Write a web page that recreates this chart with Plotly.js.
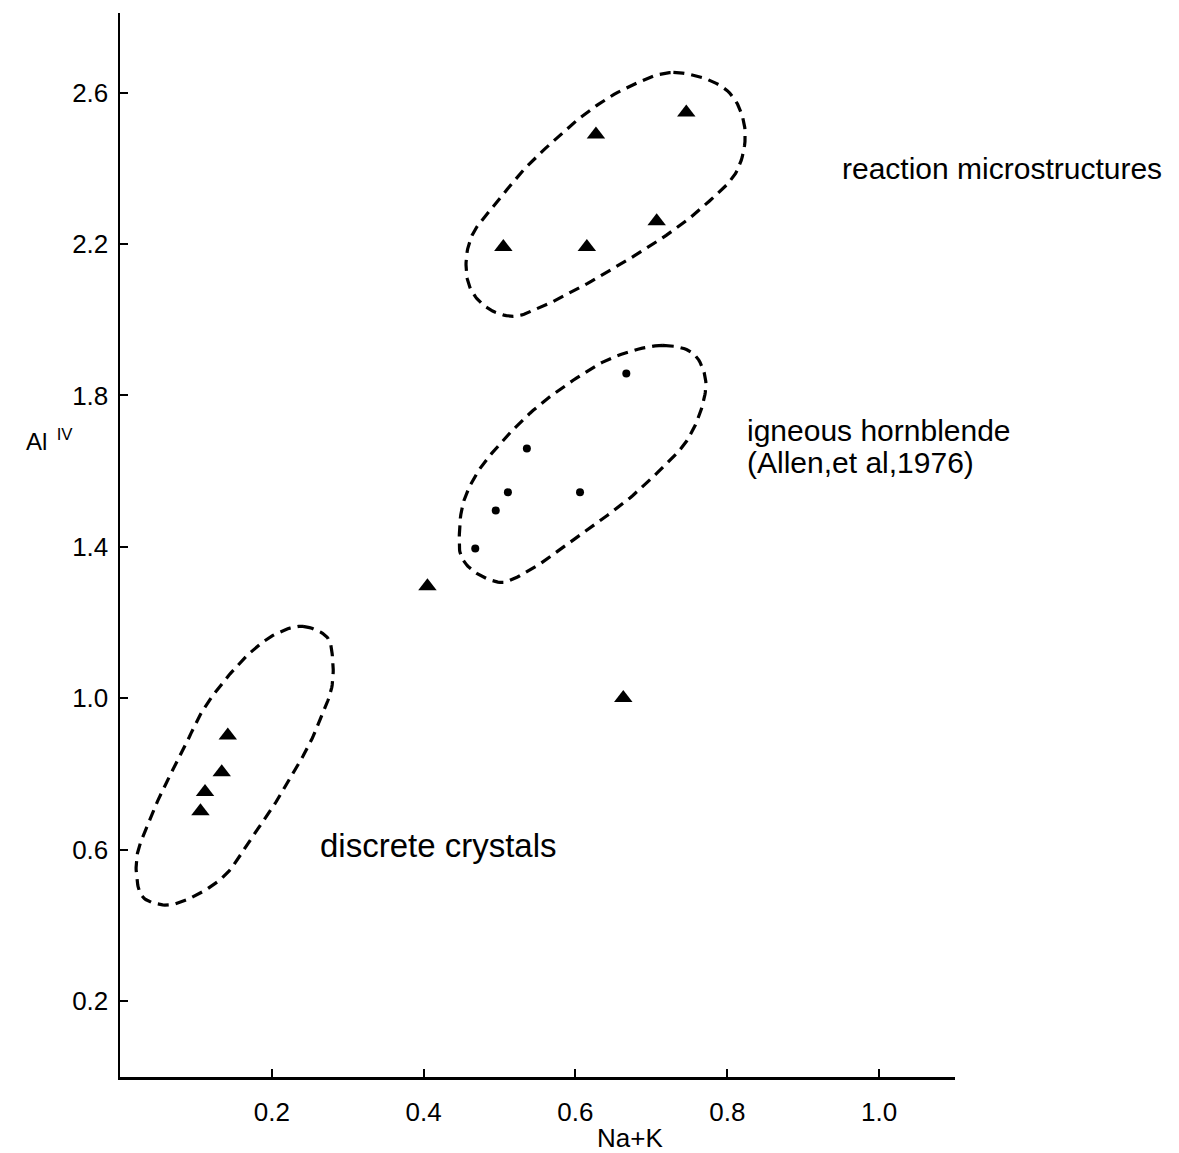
<!DOCTYPE html>
<html>
<head>
<meta charset="utf-8">
<script src="https://cdn.plot.ly/plotly-3.0.1.min.js"></script>
<style>html,body{margin:0;padding:0;background:#fff;}#chart{width:1179px;height:1153px;}</style>
</head>
<body>
<div id="chart"></div>
<script>
// ---- data (Na+K vs Al IV) ----
// reaction microstructures (triangles)
const reactX = [0.746, 0.627, 0.707, 0.505, 0.615];
const reactY = [2.547, 2.489, 2.260, 2.192, 2.192];
// discrete crystals (triangles)
const discX = [0.142, 0.134, 0.112, 0.106];
const discY = [0.902, 0.805, 0.753, 0.702];
// other triangles (outside envelopes)
const otherX = [0.405, 0.663];
const otherY = [1.296, 1.001];
// igneous hornblende (Allen et al, 1976) dots
const ignX = [0.667, 0.536, 0.606, 0.495, 0.468, 0.511];
const ignY = [1.858, 1.660, 1.544, 1.496, 1.396, 1.544];

// envelope outlines
const envAx = [0.729,0.800,0.823,0.813,0.773,0.729,0.668,0.606,0.553,0.518,0.483,0.461,0.456,0.465,0.491,0.531,0.576,0.619,0.668];
const envAy = [2.653,2.605,2.508,2.394,2.307,2.236,2.157,2.085,2.032,2.009,2.032,2.085,2.157,2.228,2.296,2.394,2.481,2.553,2.613];
const envBx = [0.715,0.755,0.771,0.768,0.747,0.711,0.668,0.615,0.566,0.523,0.503,0.470,0.450,0.447,0.452,0.470,0.501,0.544,0.597,0.649];
const envBy = [1.932,1.911,1.848,1.779,1.681,1.602,1.523,1.444,1.372,1.320,1.306,1.330,1.372,1.425,1.515,1.594,1.673,1.760,1.840,1.900];
const envCx = [0.241,0.273,0.280,0.279,0.267,0.250,0.228,0.201,0.171,0.141,0.105,0.062,0.030,0.022,0.023,0.035,0.056,0.083,0.109,0.141,0.175,0.207];
const envCy = [1.190,1.161,1.108,1.029,0.960,0.881,0.802,0.712,0.625,0.538,0.485,0.454,0.475,0.527,0.591,0.659,0.757,0.863,0.968,1.055,1.127,1.172];

const xTicks = [0.2, 0.4, 0.6, 0.8, 1.0];
const xTickText = ['0.2', '0.4', '0.6', '0.8', '1.0'];
const yTicks = [0.2, 0.6, 1.0, 1.4, 1.8, 2.2, 2.6];
const yTickText = ['0.2', '0.6', '1.0', '1.4', '1.8', '2.2', '2.6'];

const labels = ['reaction microstructures', 'igneous hornblende', '(Allen,et al,1976)', 'discrete crystals'];
const labelX = [0.949, 0.823, 0.823, 0.261];
const labelY = [2.399, 1.707, 1.623, 0.611];
const labelSize = [30, 30, 30, 33];

const FONT = 'Liberation Sans, Arial, Helvetica, sans-serif';

// smooth closed outline through the read points (periodic centripetal Catmull-Rom)
function smoothClosed(xs, ys, steps){
  const n = xs.length, sx = 758.75, sy = 378.75; // isotropic scaling for parametrisation
  const P = xs.map((x,i)=>[x*sx, ys[i]*sy]);
  const ox = [], oy = [];
  for(let i=0;i<n;i++){
    const p0=P[(i-1+n)%n], p1=P[i], p2=P[(i+1)%n], p3=P[(i+2)%n];
    const d=(a,b)=>Math.pow(Math.hypot(b[0]-a[0],b[1]-a[1]),0.5)||1e-6;
    const t0=0, t1=t0+d(p0,p1), t2=t1+d(p1,p2), t3=t2+d(p2,p3);
    for(let k=0;k<steps;k++){
      const t=t1+(t2-t1)*k/steps;
      const L=(a,b,ta,tb)=>[ (tb-t)/(tb-ta)*a[0]+(t-ta)/(tb-ta)*b[0], (tb-t)/(tb-ta)*a[1]+(t-ta)/(tb-ta)*b[1] ];
      const A1=L(p0,p1,t0,t1), A2=L(p1,p2,t1,t2), A3=L(p2,p3,t2,t3);
      const B1=L(A1,A2,t0,t2), B2=L(A2,A3,t1,t3);
      const C=L(B1,B2,t1,t2);
      ox.push(C[0]/sx); oy.push(C[1]/sy);
    }
  }
  ox.push(ox[0]); oy.push(oy[0]);
  return {x:ox, y:oy};
}
const dashLine = {color:'#000', width:3.2, dash:'11px,7px'};
const eA = smoothClosed(envAx, envAy, 12);
const eB = smoothClosed(envBx, envBy, 12);
const eC = smoothClosed(envCx, envCy, 12);

const traces = [
  {x: eA.x, y: eA.y, mode:'lines', line: dashLine, hoverinfo:'skip'},
  {x: eB.x, y: eB.y, mode:'lines', line: dashLine, hoverinfo:'skip'},
  {x: eC.x, y: eC.y, mode:'lines', line: dashLine, hoverinfo:'skip'},
  {x: reactX.concat(discX, otherX), y: reactY.concat(discY, otherY), mode:'markers',
   marker:{symbol:'triangle-up', size:16, color:'#000', line:{width:0}}},
  {x: ignX, y: ignY, mode:'markers', marker:{symbol:'circle', size:8, color:'#000', line:{width:0}}}
];

const annotations = labels.map((t,i)=>({
  text: t, x: labelX[i], y: labelY[i], xref:'x', yref:'y', xanchor:'left', yanchor:'middle',
  showarrow:false, font:{family:FONT, size:labelSize[i], color:'#000'}
}));
annotations.push({text:'Al<sup>  IV</sup>', x:-0.115, y:0.599, xref:'paper', yref:'paper', xanchor:'left', yanchor:'middle',
  showarrow:false, font:{family:FONT, size:24, color:'#000'}});
annotations.push({text:'Na+K', x:0.611, y:-0.057, xref:'paper', yref:'paper', xanchor:'center', yanchor:'middle',
  showarrow:false, font:{family:FONT, size:26, color:'#000'}});

const layout = {
  width:1179, height:1153,
  margin:{l:120, r:224, t:13, b:76, pad:0},
  paper_bgcolor:'#fff', plot_bgcolor:'#fff',
  showlegend:false,
  font:{family:FONT, color:'#000'},
  xaxis:{range:[0,1.10], showline:true, linecolor:'#000', linewidth:2.5, ticks:'inside', ticklen:8, tickwidth:2,
    tickcolor:'#000', tickvals:xTicks, ticktext:xTickText, showgrid:false, zeroline:false,
    tickfont:{family:FONT, size:26, color:'#000'}, ticklabelstandoff:10},
  yaxis:{range:[0,2.81], showline:true, linecolor:'#000', linewidth:2.5, ticks:'inside', ticklen:8, tickwidth:2,
    tickcolor:'#000', tickvals:yTicks, ticktext:yTickText, showgrid:false, zeroline:false,
    tickfont:{family:FONT, size:26, color:'#000'}, ticklabelstandoff:4},
  annotations: annotations
};

Plotly.newPlot('chart', traces, layout, {displayModeBar:false, staticPlot:true});
</script>
</body>
</html>
